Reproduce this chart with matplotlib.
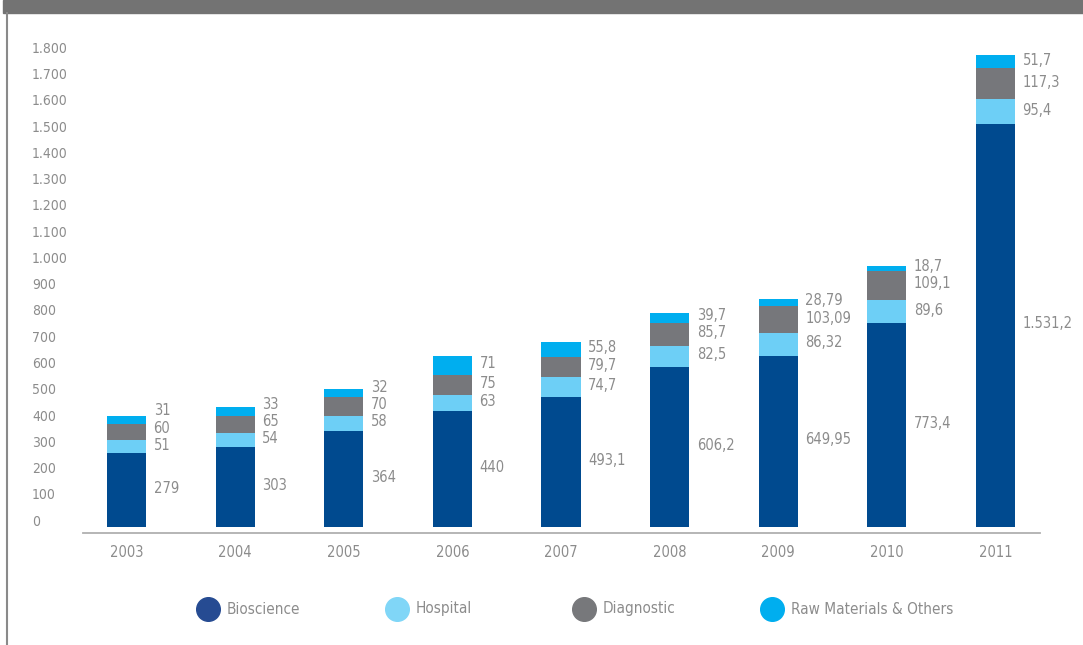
import matplotlib.pyplot as plt
import matplotlib.transforms as mtransforms
import numpy as np

plt.rcParams['font.family'] = ['DejaVu Sans']
plt.rcParams['font.stretch'] = 'condensed'

years = ['2003', '2004', '2005', '2006', '2007', '2008', '2009', '2010', '2011']
bioscience = [279, 303, 364, 440, 493.1, 606.2, 649.95, 773.4, 1531.2]
hospital = [51, 54, 58, 63, 74.7, 82.5, 86.32, 89.6, 95.4]
diagnostic = [60, 65, 70, 75, 79.7, 85.7, 103.09, 109.1, 117.3]
raw_others = [31, 33, 32, 71, 55.8, 39.7, 28.79, 18.7, 51.7]
series_names = ['Bioscience', 'Hospital', 'Diagnostic', 'Raw Materials & Others']
yticks = list(range(0, 1801, 100))

bar_colors = ['#004a8f', '#6dcff6', '#76777b', '#00aeef']
legend_colors = ['#264b92', '#80d6f7', '#77787b', '#00aeef']
txt_col = '#8c8c8c'


def fmt(v):
    s = f"{v:,}"
    return s.replace(',', 'X').replace('.', ',').replace('X', '.')


fig = plt.figure(figsize=(10.83, 6.45), dpi=100)
W, H = 1083, 645

# top band and left frame line
fig.add_artist(plt.Rectangle((3 / W, 1 - 13 / H), 1, 13 / H, transform=fig.transFigure,
                             color='#737373', zorder=0))
fig.add_artist(plt.Line2D([7 / W, 7 / W], [0, 1 - 13 / H], transform=fig.transFigure,
                          color='#8a8a8a', lw=1.5))

left, right = 83 / W, 1040 / W
bottom, top = 1 - 532.7 / H, 1 - 40 / H
ax = fig.add_axes([left, bottom, right - left, top - bottom])

x = np.arange(len(years))
width = 0.36
series = [bioscience, hospital, diagnostic, raw_others]
base = np.zeros(len(years))
bottoms = []
for vals, col in zip(series, bar_colors):
    bottoms.append(base.copy())
    ax.bar(x, vals, width, bottom=base, color=col, linewidth=0)
    base = base + np.array(vals)

ax.set_xlim(-0.40, 8.41)
ax.set_ylim(-22.8, 1852)

# value labels, stacked with a minimum gap
gap = 65
for i in range(len(years)):
    mids = [bottoms[k][i] + series[k][i] / 2 for k in range(4)]
    ypos = [mids[0], mids[1]]
    ypos.append(max(mids[2], ypos[1] + gap))
    ypos.append(max(mids[3], ypos[2] + gap))
    for k in range(4):
        ax.text(x[i] + 0.25, ypos[k] + 6, fmt(series[k][i]), ha='left', va='center',
                fontsize=10.5, color=txt_col)

for s in ['top', 'right', 'left']:
    ax.spines[s].set_visible(False)
ax.spines['bottom'].set_color('#b0b0b0')
ax.spines['bottom'].set_linewidth(1.3)
ax.set_xticks(x)
ax.set_xticklabels(years, fontsize=10.5, color=txt_col)
ax.tick_params(axis='x', length=0, pad=9)
ax.set_yticks([])

# y tick labels, left aligned
trans = mtransforms.blended_transform_factory(fig.transFigure, ax.transData)
trans = trans + mtransforms.ScaledTranslation(0, 5 / 100, fig.dpi_scale_trans)
for t in yticks:
    ax.text(32 / W, t, fmt(t), transform=trans, ha='left', va='center',
            fontsize=10, color=txt_col, clip_on=False)

# legend
lx = [208, 397, 584, 772]
ly = 1 - 609 / H
for name, col, px in zip(series_names, legend_colors, lx):
    fig.add_artist(plt.Line2D([px / W], [ly], marker='o', markersize=17,
                              color=col, linestyle='none', transform=fig.transFigure))
    fig.text((px + 19) / W, ly, name, ha='left', va='center', fontsize=11, color=txt_col)

fig.savefig('out.png', dpi=100)
